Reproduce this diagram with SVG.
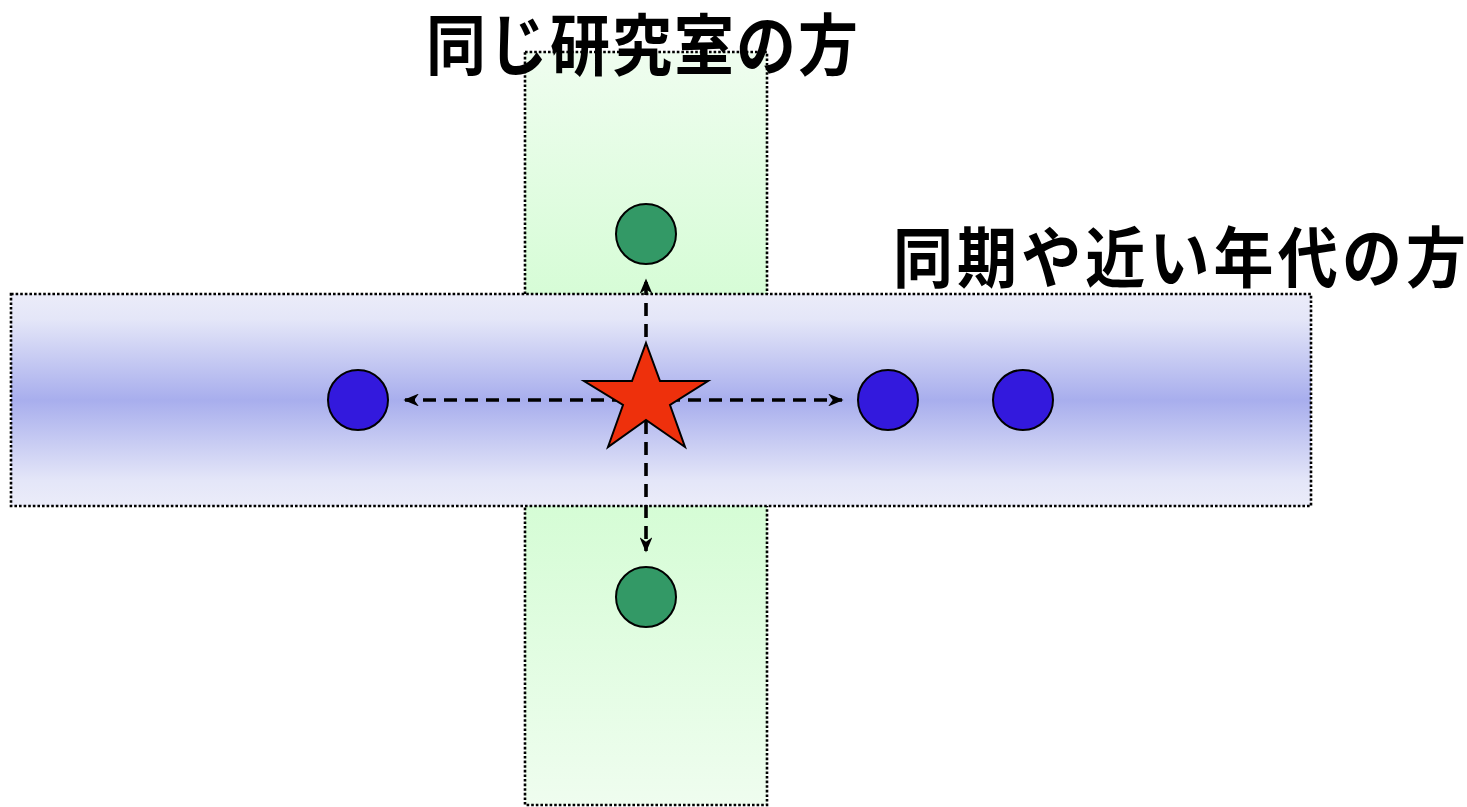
<svg xmlns="http://www.w3.org/2000/svg" width="1467" height="807" viewBox="0 0 1467 807">
<style>
.zone{stroke:#000;stroke-width:2.6;stroke-dasharray:2.6 2}
.green{fill:#339966;stroke:#000;stroke-width:2}
.blue{fill:#3319dd;stroke:#000;stroke-width:2}
.conn{stroke:#000;stroke-width:3.6;stroke-dasharray:13 8;fill:none}
.lbl{font-family:"Noto Sans CJK JP","Noto Sans",sans-serif;font-weight:bold;font-size:60px;fill:#000}
</style>
<defs>
<linearGradient id="gg" x1="0" y1="0" x2="0" y2="1">
<stop offset="0" stop-color="#effdef"/>
<stop offset="0.46" stop-color="#ccfccc"/>
<stop offset="1" stop-color="#effdef"/>
</linearGradient>
<linearGradient id="bg" x1="0" y1="0" x2="0" y2="1">
<stop offset="0" stop-color="#ebecf9"/>
<stop offset="0.12" stop-color="#e4e6f8"/>
<stop offset="0.5" stop-color="#a8aeed"/>
<stop offset="0.88" stop-color="#e4e6f8"/>
<stop offset="1" stop-color="#ebecf9"/>
</linearGradient>
<marker id="ah" viewBox="0 0 10 10" refX="9" refY="5" markerWidth="4.3" markerHeight="3.6" markerUnits="strokeWidth" orient="auto" preserveAspectRatio="none">
<path d="M0,0 L10,5 L0,10 L3,5 Z" fill="#000"/>
</marker>
</defs>
<g id="lab-zone"><rect class="zone" x="525" y="52" width="242" height="753" fill="url(#gg)"/></g>
<g id="peer-zone"><rect class="zone" x="11" y="294" width="1300" height="212" fill="url(#bg)"/></g>
<g id="lab-top"><circle class="green" cx="646" cy="234" r="30"/></g>
<g id="lab-bottom"><circle class="green" cx="646" cy="597" r="30"/></g>
<g id="peer-left"><circle class="blue" cx="358" cy="400" r="30"/></g>
<g id="peer-right1"><circle class="blue" cx="888" cy="400" r="30"/></g>
<g id="peer-right2"><circle class="blue" cx="1023" cy="400" r="30"/></g>
<g id="connectors">
<line class="conn" x1="646" y1="400" x2="405" y2="400" marker-end="url(#ah)"/>
<line class="conn" x1="646" y1="400" x2="842" y2="400" marker-end="url(#ah)"/>
<line class="conn" x1="646" y1="400" x2="646" y2="280" marker-end="url(#ah)"/>
<line class="conn" x1="646" y1="400" x2="646" y2="551" marker-end="url(#ah)"/>
</g>
<g id="self"><polygon points="646,343 660,381 708,381 670,405 685,447 646,420 608,447 623,405 584,381 632,381" fill="#ee300c" stroke="#000" stroke-width="2" stroke-linejoin="miter"/></g>
<g id="label-lab" transform="translate(426,69.5) scale(1,1.12)"><text class="lbl" x="0" y="0" textLength="432" lengthAdjust="spacing">同じ研究室の方</text></g>
<g id="label-peer" transform="translate(893,282) scale(1,1.1)"><text class="lbl" x="0" y="0" textLength="573" lengthAdjust="spacing">同期や近い年代の方</text></g>
</svg>
